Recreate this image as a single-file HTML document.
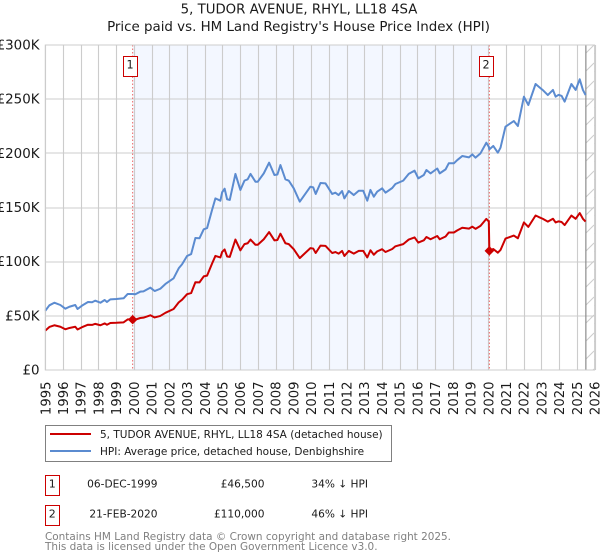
<!DOCTYPE html>
<html>
<head>
<meta charset="utf-8">
<title>5, TUDOR AVENUE, RHYL, LL18 4SA</title>
<style>
html,body{margin:0;padding:0;background:#fff;width:600px;height:560px;overflow:hidden}
svg{display:block}
text{font-family:"DejaVu Sans","Liberation Sans",sans-serif;fill:#1a1a1a}
</style>
</head>
<body>
<svg id="chart" xmlns="http://www.w3.org/2000/svg" width="600" height="560" viewBox="0 0 600 560">
  <defs>
    <pattern id="hatch" width="9" height="18" patternUnits="userSpaceOnUse">
      <path d="M0 18 L9 9" stroke="#cccccc" stroke-width="1" fill="none"/>
    </pattern>
  </defs>
  <text x="299" y="13.5" font-size="13.3" text-anchor="middle">5, TUDOR AVENUE, RHYL, LL18 4SA</text>
  <text x="298.5" y="31" font-size="13.4" text-anchor="middle">Price paid vs. HM Land Registry's House Price Index (HPI)</text>
  <g id="plot"></g>

  <g>
    <rect x="45.5" y="425.5" width="346" height="36" fill="#fff" stroke="#808080" stroke-width="1"/>
    <line x1="50" y1="434" x2="91" y2="434" stroke="#cc0000" stroke-width="2"/>
    <text x="100" y="438" font-size="10.5">5, TUDOR AVENUE, RHYL, LL18 4SA (detached house)</text>
    <line x1="50" y1="451" x2="91" y2="451" stroke="#5b8bd0" stroke-width="2"/>
    <text x="100" y="455" font-size="10.5">HPI: Average price, detached house, Denbighshire</text>
  </g>

  <g>
    <rect x="45.5" y="475.5" width="14" height="20" fill="#fff" stroke="#cc0000" stroke-width="1"/>
    <text x="52.3" y="487.5" font-size="11" text-anchor="middle">1</text>
    <text x="157.5" y="487.3" font-size="10.6" text-anchor="end">06-DEC-1999</text>
    <text x="264.5" y="487.3" font-size="10.6" text-anchor="end">£46,500</text>
    <text x="368" y="487.3" font-size="10.6" text-anchor="end">34% ↓ HPI</text>
  </g>
  <g>
    <rect x="45.5" y="505.5" width="14" height="20" fill="#fff" stroke="#cc0000" stroke-width="1"/>
    <text x="52.3" y="517.5" font-size="11" text-anchor="middle">2</text>
    <text x="157.5" y="517.3" font-size="10.6" text-anchor="end">21-FEB-2020</text>
    <text x="264.5" y="517.3" font-size="10.6" text-anchor="end">£110,000</text>
    <text x="368" y="517.3" font-size="10.6" text-anchor="end">46% ↓ HPI</text>
  </g>

  <text x="45" y="540" font-size="10.45" style="fill:#808080">Contains HM Land Registry data © Crown copyright and database right 2025.</text>
  <text x="45" y="550" font-size="10.45" style="fill:#808080">This data is licensed under the Open Government Licence v3.0.</text>
</svg>

<script>
// Chart data (prices in £ thousands)
const yearTicks = [1995,1996,1997,1998,1999,2000,2001,2002,2003,2004,2005,2006,2007,2008,2009,2010,2011,2012,2013,2014,2015,2016,2017,2018,2019,2020,2021,2022,2023,2024,2025,2026];
const priceTicks = [0,50,100,150,200,250,300];
const priceTickLabels = ['£0','£50K','£100K','£150K','£200K','£250K','£300K'];
const saleDates = [1999.93,2020.06];
const salePrices = [46.5,110];
const saleLabels = ['1','2'];
const dataEndYear = 2025.49;
const dates = [1995.00,1995.23,1995.51,1995.85,1996.13,1996.36,1996.69,1996.82,1997.07,1997.41,1997.64,1997.82,1998.11,1998.35,1998.48,1998.67,1999.01,1999.42,1999.65,1999.93,2000.08,2000.36,2000.54,2000.93,2001.17,2001.49,2001.78,2002.24,2002.53,2002.72,2003.00,2003.23,2003.47,2003.70,2003.94,2004.13,2004.41,2004.60,2004.88,2004.98,2005.12,2005.26,2005.41,2005.73,2006.01,2006.24,2006.42,2006.58,2006.86,2006.99,2007.33,2007.63,2007.93,2008.10,2008.27,2008.55,2008.74,2009.02,2009.36,2009.96,2010.12,2010.26,2010.53,2010.81,2011.19,2011.37,2011.55,2011.75,2011.88,2012.13,2012.41,2012.69,2012.94,2013.17,2013.35,2013.54,2013.73,2014.01,2014.20,2014.58,2014.76,2015.20,2015.51,2015.84,2016.05,2016.36,2016.51,2016.74,2017.12,2017.26,2017.59,2017.77,2018.06,2018.25,2018.53,2018.91,2019.10,2019.28,2019.56,2019.89,2020.03,2020.06,2020.28,2020.54,2020.69,2020.97,2021.44,2021.67,2022.01,2022.26,2022.67,2022.85,2023.07,2023.36,2023.65,2023.80,2023.97,2024.14,2024.31,2024.69,2024.93,2025.16,2025.34,2025.49];
const hpiValues = [54.7,59.7,62.1,60.0,56.6,58.4,60.0,56.3,59.4,62.8,62.5,64.0,62.1,64.6,62.8,65.2,65.5,66.2,70.2,70.2,69.9,72.3,72.6,76.0,72.9,75.0,79.4,84.6,93.9,97.6,105.2,107.0,121.8,121.6,129.9,131.0,147.7,158.4,156.3,164.0,167.4,157.6,157.0,181.0,166.2,174.8,176.0,181.0,173.8,173.8,181.5,191.4,180.0,180.5,189.2,176.0,174.8,167.7,155.4,169.2,168.6,162.5,172.6,172.3,162.5,163.7,161.5,165.2,158.4,165.2,161.5,165.5,165.5,156.3,166.2,160.0,164.6,167.7,163.7,168.0,171.7,174.8,181.0,184.0,176.9,180.0,184.6,181.5,186.0,181.5,185.2,190.8,190.8,193.8,197.5,196.3,199.0,196.0,200.0,209.8,206.0,203.7,206.8,200.6,205.2,224.6,229.8,225.2,252.3,244.6,264.0,261.5,258.5,253.8,258.5,252.3,254.0,253.0,247.7,264.0,258.5,268.3,258.5,253.8];
const paidValues = [36.4,39.7,41.3,39.9,37.6,38.8,39.9,37.4,39.5,41.8,41.6,42.6,41.3,43.0,41.8,43.4,43.6,44.0,46.7,46.7,46.5,48.0,48.3,50.5,48.5,49.9,52.8,56.3,62.4,64.9,70.0,71.0,81.0,80.9,86.4,87.1,98.2,105.3,103.9,109.0,111.3,104.8,104.4,120.4,110.5,116.2,117.0,120.4,115.6,115.6,120.7,127.3,119.7,120.0,125.8,117.0,116.2,111.5,103.3,112.5,112.1,108.0,114.8,114.6,108.0,108.9,107.4,109.9,105.3,109.9,107.4,110.0,110.0,103.9,110.5,106.4,109.5,111.5,108.9,111.7,114.2,116.2,120.4,122.4,117.6,119.7,122.8,120.7,123.7,120.7,123.2,126.9,126.9,128.9,131.3,130.5,132.3,130.3,133.0,139.5,137.0,110.0,111.7,108.3,110.8,121.3,124.1,121.6,136.2,132.1,142.6,141.2,139.6,137.0,139.6,136.2,137.2,136.6,133.8,142.6,139.6,144.9,139.6,137.0];

const NS = 'http://www.w3.org/2000/svg';
const plot = document.getElementById('plot');
const left = 45.3, right = 594.6, top_ = 45, bottom = 370;
const minYear = yearTicks[0], maxYear = yearTicks[yearTicks.length - 1];
const minPrice = priceTicks[0], maxPrice = priceTicks[priceTicks.length - 1];
function xScale(year) { return left + (year - minYear) / (maxYear - minYear) * (right - left); }
function yScale(price) { return bottom - (price - minPrice) / (maxPrice - minPrice) * (bottom - top_); }
function make(tag, attrs) {
  const el = document.createElementNS(NS, tag);
  for (const k in attrs) el.setAttribute(k, attrs[k]);
  return el;
}

// Shaded period between the two sales
const shade = make('rect', {x: xScale(saleDates[0]), y: top_, width: xScale(saleDates[1]) - xScale(saleDates[0]), height: bottom - top_, fill: '#f3f7ff'});


plot.appendChild(shade);

// Vertical grid and x tick labels
yearTicks.forEach(function (year) {
  const gx = Math.round(xScale(year)) + 0.5;
  const grid = make('line', {x1: gx, x2: gx, y1: top_, y2: bottom, stroke: '#cccccc', 'stroke-width': 1.1});
  
  
  plot.appendChild(grid);
  const lx = xScale(year) + 5;
  const label = make('text', {x: lx, y: 381.5, 'font-size': 13.2, 'text-anchor': 'end', transform: 'rotate(-90 ' + lx + ' 381.5)'});
  
  
  label.textContent = year;
  plot.appendChild(label);
});

// Horizontal grid and y tick labels
priceTicks.forEach(function (price, i) {
  const gy = Math.round(yScale(price));
  const grid = make('line', {x1: left, x2: right, y1: gy, y2: gy, stroke: '#cccccc', 'stroke-width': 1.1});
  
  
  plot.appendChild(grid);
  const label = make('text', {x: 39.5, y: yScale(price) + 4.5, 'font-size': 13.4, 'text-anchor': 'end'});
  
  
  label.textContent = priceTickLabels[i];
  plot.appendChild(label);
});

// Forecast / no-data hatched region
const endX = xScale(dataEndYear) + 0.3;
const hatch = make('rect', {x: endX, y: top_, width: right - endX, height: bottom - top_, fill: 'url(#hatch)'});


plot.appendChild(hatch);
const endLine = make('line', {x1: endX, x2: endX, y1: top_, y2: bottom, stroke: '#8c8c8c', 'stroke-width': 1.2});


plot.appendChild(endLine);

// Sale marker verticals
saleDates.forEach(function (d) {
  const sx = xScale(d);
  const v = make('line', {x1: sx, x2: sx, y1: top_, y2: bottom, stroke: '#ee6666', 'stroke-width': 1, 'stroke-dasharray': '1.5 2'});
  
  
  plot.appendChild(v);
});

// Series
function pathFor(values) {
  return values.map(function (v, i) { return (i ? 'L' : 'M') + xScale(dates[i]).toFixed(2) + ' ' + yScale(v).toFixed(2); }).join(' ');
}
const hpiLine = make('path', {d: pathFor(hpiValues), fill: 'none', stroke: '#5b8bd0', 'stroke-width': 2, 'stroke-linejoin': 'round'});


plot.appendChild(hpiLine);
const paidLine = make('path', {d: pathFor(paidValues), fill: 'none', stroke: '#cc0000', 'stroke-width': 2, 'stroke-linejoin': 'round'});


plot.appendChild(paidLine);

// Sale markers and numbered badges
saleDates.forEach(function (d, i) {
  const sx = xScale(d), sy = yScale(salePrices[i]), r = 4.8;
  const dot = make('path', {d: 'M' + sx + ' ' + (sy - r) + ' L' + (sx + r) + ' ' + sy + ' L' + sx + ' ' + (sy + r) + ' L' + (sx - r) + ' ' + sy + ' Z', fill: '#cc0000'});
  
  
  plot.appendChild(dot);
  const bx = Math.round(sx) - 10;
  const box = make('rect', {x: bx + 0.5, y: 56.5, width: 14, height: 20, fill: '#fff', stroke: '#cc0000', 'stroke-width': 1});
  
  
  plot.appendChild(box);
  const t = make('text', {x: bx + 7, y: 68.5, 'font-size': 11.2, 'text-anchor': 'middle'});
  
  
  t.textContent = saleLabels[i];
  plot.appendChild(t);
});

// Plot border on top
const border = make('rect', {x: left, y: top_, width: right - left, height: bottom - top_, fill: 'none', stroke: '#cccccc', 'stroke-width': 1});


plot.appendChild(border);
</script>
</body>
</html>
